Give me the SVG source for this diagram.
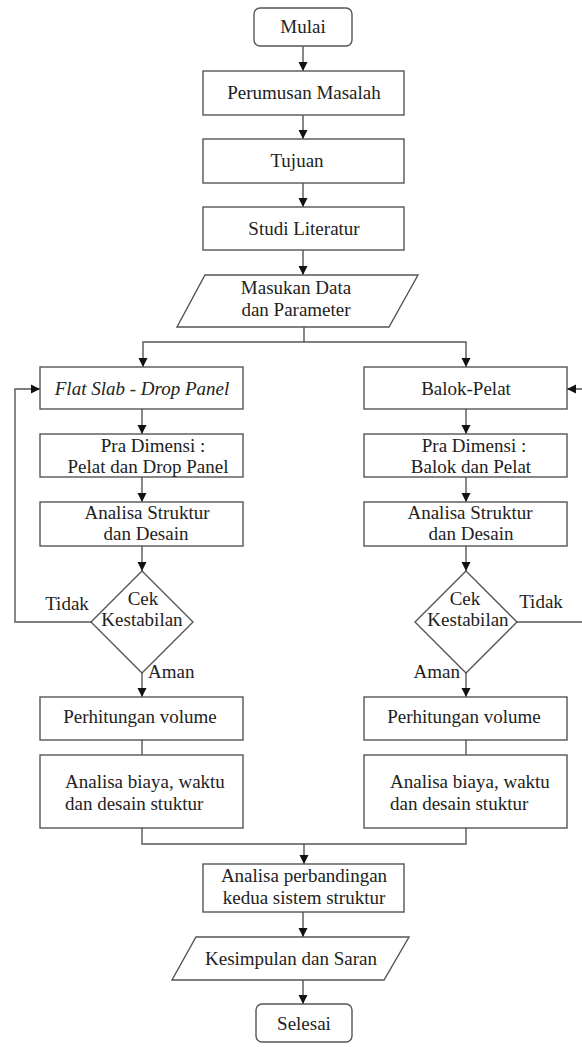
<svg xmlns="http://www.w3.org/2000/svg" width="582" height="1047" viewBox="0 0 582 1047">
<defs>
<style>
.n{fill:#fff;stroke:#555;stroke-width:1.4}
.c{fill:none;stroke:#555;stroke-width:1.4}
.t{font-family:"Times New Roman","Liberation Serif",Tinos,"Noto Serif","DejaVu Serif",serif;font-size:19px;fill:#222}
.m{text-anchor:middle}
</style>
<marker id="a" markerWidth="10" markerHeight="10" refX="9" refY="5" orient="auto" markerUnits="userSpaceOnUse">
<path d="M0,0.5 L9,5 L0,9.5 Z" fill="#111"/>
</marker>
</defs>
<rect width="582" height="1047" fill="#fff"/>
<g id="connectors">
<line class="c" x1="303" y1="46" x2="303" y2="71" marker-end="url(#a)"/>
<line class="c" x1="303" y1="115" x2="303" y2="139" marker-end="url(#a)"/>
<line class="c" x1="303" y1="183" x2="303" y2="207" marker-end="url(#a)"/>
<line class="c" x1="303" y1="250" x2="303" y2="275" marker-end="url(#a)"/>
<polyline class="c" points="304,327 304,342"/>
<polyline class="c" points="304,342 143,342 143,367" marker-end="url(#a)"/>
<polyline class="c" points="304,342 466,342 466,367" marker-end="url(#a)"/>
<line class="c" x1="142" y1="409" x2="142" y2="434" marker-end="url(#a)"/>
<line class="c" x1="142" y1="477" x2="142" y2="502" marker-end="url(#a)"/>
<line class="c" x1="142" y1="546" x2="142" y2="571" marker-end="url(#a)"/>
<polyline class="c" points="91,622 15,622 15,389 40,389" marker-end="url(#a)"/>
<line class="c" x1="142" y1="673" x2="142" y2="697" marker-end="url(#a)"/>
<line class="c" x1="142" y1="740" x2="142" y2="755"/>
<polyline class="c" points="142,828 142,844 304,844"/>
<line class="c" x1="466" y1="409" x2="466" y2="434" marker-end="url(#a)"/>
<line class="c" x1="466" y1="477" x2="466" y2="502" marker-end="url(#a)"/>
<line class="c" x1="466" y1="546" x2="466" y2="571" marker-end="url(#a)"/>
<polyline class="c" points="517,622 590,622 590,389 567,389" marker-end="url(#a)"/>
<line class="c" x1="466" y1="673" x2="466" y2="697" marker-end="url(#a)"/>
<line class="c" x1="466" y1="740" x2="466" y2="755"/>
<polyline class="c" points="466,828 466,844 304,844 304,864" marker-end="url(#a)"/>
<line class="c" x1="303" y1="912" x2="303" y2="937" marker-end="url(#a)"/>
<line class="c" x1="303" y1="980" x2="303" y2="1004" marker-end="url(#a)"/>
<text class="t m" x="67" y="610">Tidak</text>
<text class="t m" x="541" y="608">Tidak</text>
<text class="t" x="148" y="678">Aman</text>
<text class="t" x="460" y="678" text-anchor="end">Aman</text>
</g>
<g id="mulai"><rect class="n" x="254" y="8" width="98" height="38" rx="6"/><text class="t m" x="303" y="33">Mulai</text></g>
<g id="perumusan"><rect class="n" x="203" y="71" width="201" height="44"/><text class="t m" x="304" y="99">Perumusan Masalah</text></g>
<g id="tujuan"><rect class="n" x="203" y="139" width="201" height="44"/><text class="t m" x="297" y="167">Tujuan</text></g>
<g id="studi"><rect class="n" x="203" y="207" width="201" height="43"/><text class="t m" x="304" y="235">Studi Literatur</text></g>
<g id="masukan"><polygon class="n" points="205,275 418,275 389,327 177,327"/><text class="t m" x="296" y="294">Masukan Data</text><text class="t m" x="296" y="316">dan Parameter</text></g>
<g id="flatslab"><rect class="n" x="40" y="367" width="203" height="42"/><text class="t m" x="142" y="395" font-style="italic">Flat Slab - Drop Panel</text></g>
<g id="pra1"><rect class="n" x="40" y="434" width="203" height="43"/><text class="t m" x="153" y="452">Pra Dimensi :</text><text class="t m" x="148" y="473">Pelat dan Drop Panel</text></g>
<g id="analisa1"><rect class="n" x="40" y="502" width="203" height="44"/><text class="t m" x="147" y="519">Analisa Struktur</text><text class="t m" x="146" y="540">dan Desain</text></g>
<g id="cek1"><polygon class="n" points="142,571 193,622 142,673 91,622"/><text class="t m" x="143" y="605">Cek</text><text class="t m" x="142" y="626">Kestabilan</text></g>
<g id="volume1"><rect class="n" x="40" y="697" width="203" height="43"/><text class="t m" x="140" y="723">Perhitungan volume</text></g>
<g id="biaya1"><rect class="n" x="40" y="755" width="203" height="73"/><text class="t" x="65" y="788">Analisa biaya, waktu</text><text class="t" x="65" y="810">dan desain stuktur</text></g>
<g id="balok"><rect class="n" x="364" y="367" width="203" height="42"/><text class="t m" x="466" y="395">Balok-Pelat</text></g>
<g id="pra2"><rect class="n" x="364" y="434" width="203" height="43"/><text class="t m" x="474" y="452">Pra Dimensi :</text><text class="t m" x="471" y="473">Balok dan Pelat</text></g>
<g id="analisa2"><rect class="n" x="364" y="502" width="203" height="44"/><text class="t m" x="470" y="519">Analisa Struktur</text><text class="t m" x="471" y="540">dan Desain</text></g>
<g id="cek2"><polygon class="n" points="466,571 517,622 466,673 415,622"/><text class="t m" x="465" y="605">Cek</text><text class="t m" x="468" y="626">Kestabilan</text></g>
<g id="volume2"><rect class="n" x="364" y="697" width="203" height="43"/><text class="t m" x="464" y="723">Perhitungan volume</text></g>
<g id="biaya2"><rect class="n" x="364" y="755" width="203" height="73"/><text class="t" x="390" y="788">Analisa biaya, waktu</text><text class="t" x="390" y="810">dan desain stuktur</text></g>
<g id="perbandingan"><rect class="n" x="203" y="864" width="201" height="48"/><text class="t m" x="304" y="882">Analisa perbandingan</text><text class="t m" x="304" y="904">kedua sistem struktur</text></g>
<g id="kesimpulan"><polygon class="n" points="196,937 409,937 384,980 172,980"/><text class="t m" x="291" y="965">Kesimpulan dan Saran</text></g>
<g id="selesai"><rect class="n" x="256" y="1004" width="96" height="38" rx="6"/><text class="t m" x="304" y="1030">Selesai</text></g>
</svg>
